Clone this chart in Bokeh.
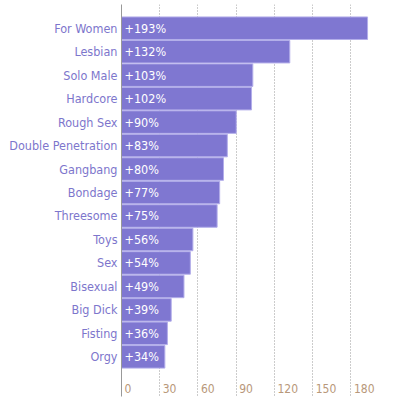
from bokeh.plotting import figure
from bokeh.models import ColumnDataSource, Range1d, FixedTicker, Grid
from bokeh.core.properties import value
from bokeh.embed import file_html
from bokeh.resources import INLINE

categories = ["For Women", "Lesbian", "Solo Male", "Hardcore", "Rough Sex",
              "Double Penetration", "Gangbang", "Bondage", "Threesome", "Toys",
              "Sex", "Bisexual", "Big Dick", "Fisting", "Orgy"]
values = [193, 132, 103, 102, 90, 83, 80, 77, 75, 56, 54, 49, 39, 36, 34]
tick_values = [0, 30, 60, 90, 120, 150, 180]
tick_labels = ["0", "30", "60", "90", "120", "150", "180"]

FONT = "DejaVu Sans Condensed"
BAR = "#7f77d1"
LABEL = "#7d76cc"

rows = list(range(len(categories)))
src = ColumnDataSource(dict(y=rows, v=values, cat=categories,
                            lab=[f"+{v}%" for v in values]))

p = figure(width=390, height=400, output_backend="svg", toolbar_location=None,
           x_range=Range1d(0, 211), y_range=Range1d(15.69, -1.01),
           x_axis_location=None, min_border_left=121, min_border_right=0,
           min_border_top=4, min_border_bottom=4)
p.outline_line_color = None
p.background_fill_color = "white"
p.xgrid.visible = False
p.ygrid.visible = False

g = Grid(dimension=0, ticker=FixedTicker(ticks=tick_values),
         grid_line_color="#999999", grid_line_dash="1 2", grid_line_width=1)
p.add_layout(g)

p.hbar(y="y", right="v", left=0, height=0.96, source=src,
       fill_color=BAR, line_color="#b3aeea", line_width=1)

p.text(x=0, y="y", text="lab", source=src, x_offset=3,
       text_color="white", text_font=value(FONT), text_font_size="12.5px",
       text_baseline="middle", text_align="left")

tsrc = ColumnDataSource(dict(x=tick_values, y=[15.35] * len(tick_values), t=tick_labels))
p.text(x="x", y="y", text="t", source=tsrc, x_offset=3,
       text_color="#b8987a", text_font=value(FONT), text_font_size="12px",
       text_baseline="middle", text_align="left")

ax = p.yaxis[0]
ax.ticker = FixedTicker(ticks=rows)
ax.major_label_overrides = {i: c for i, c in zip(rows, categories)}
ax.major_tick_line_color = None
ax.minor_tick_line_color = None
ax.major_tick_out = 0
ax.major_tick_in = 0
ax.axis_line_color = "#999999"
ax.major_label_standoff = 4
ax.major_label_text_color = LABEL
ax.major_label_text_font = FONT
ax.major_label_text_font_size = "12.5px"

open("out.html", "w").write(file_html(p, INLINE))
